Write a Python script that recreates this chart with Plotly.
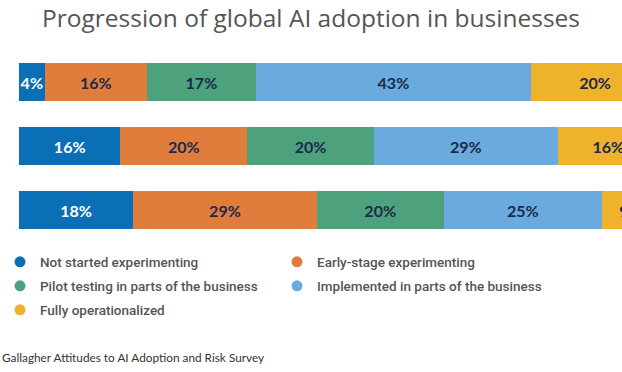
import plotly.graph_objects as go

rows = ["Survey A", "Survey B", "Survey C"]
series_names = [
    "Not started experimenting",
    "Early-stage experimenting",
    "Pilot testing in parts of the business",
    "Implemented in parts of the business",
    "Fully operationalized",
]
not_started = [4, 16, 18]
early_stage = [16, 20, 29]
pilot = [17, 20, 20]
implemented = [43, 29, 25]
fully = [20, 16, 9]

series_values = [not_started, early_stage, pilot, implemented, fully]
colors = ["#0b6fb6", "#e07c3c", "#4da27d", "#6aaadc", "#efb22b"]
text_colors = ["#ffffff", "#1b2a48", "#1b2a48", "#1b2a48", "#1b2a48"]
legend_ids = ["legend", "legend2", "legend3", "legend4", "legend5"]
legend_pos = [(0, 262), (277, 262), (0, 286), (277, 286), (0, 310)]

totals = [sum(v[i] for v in series_values) for i in range(len(rows))]

fig = go.Figure()
for name, vals, col, tcol in zip(series_names, series_values, colors, text_colors):
    share = [v / t * 100 for v, t in zip(vals, totals)]
    fig.add_trace(go.Bar(
        y=rows, x=share, orientation="h", name=name,
        marker=dict(color=col, line=dict(width=0)),
        text=[f"{v}%" for v in vals], textposition="inside",
        insidetextanchor="middle", textangle=0,
        textfont=dict(color=tcol, size=16, family="Lato", weight=700),
        showlegend=False, hoverinfo="skip",
    ))
for name, col, lg in zip(series_names, colors, legend_ids):
    fig.add_trace(go.Scatter(
        x=[None], y=[None], mode="markers", name=name, legend=lg,
        marker=dict(color=col, size=11, symbol="circle"),
    ))

legend_font = dict(family="Roboto", size=13.5, color="#555555", weight=500)


def legend_at(x_px, y_px):
    return dict(orientation="h", xref="container", yref="container",
                x=x_px / 622, y=1 - y_px / 372, xanchor="left", yanchor="middle",
                itemwidth=30, bgcolor="rgba(0,0,0,0)", font=legend_font)


legends = {lid: legend_at(px, py) for lid, (px, py) in zip(legend_ids, legend_pos)}

fig.update_layout(
    width=622, height=372,
    margin=dict(l=19, r=0, t=50, b=130, autoexpand=False),
    barmode="stack", bargap=0.42,
    paper_bgcolor="white", plot_bgcolor="white",
    uniformtext=dict(minsize=16, mode="show"),
    title=dict(text="Progression of global AI adoption in businesses",
               x=0.5, xref="container", xanchor="center",
               y=1 - 18 / 372, yref="container", yanchor="middle",
               font=dict(family="Open Sans", size=24.5, color="#555555", weight=500)),
    xaxis=dict(range=[0, 603 / 6.4], visible=False, fixedrange=True),
    yaxis=dict(autorange="reversed", visible=False, fixedrange=True),
    annotations=[dict(text="Gallagher Attitudes to AI Adoption and Risk Survey",
                      xref="paper", yref="paper", x=-19 / 603, y=(242 - 357) / 192,
                      xanchor="left", yanchor="middle", showarrow=False,
                      font=dict(family="Lato", size=11.8, color="#333333"))],
    **legends,
)
fig.write_html(
    "out.html",
    config={"displayModeBar": False},
    post_script="document.body.style.margin='0';document.body.style.overflow='hidden';",
)
